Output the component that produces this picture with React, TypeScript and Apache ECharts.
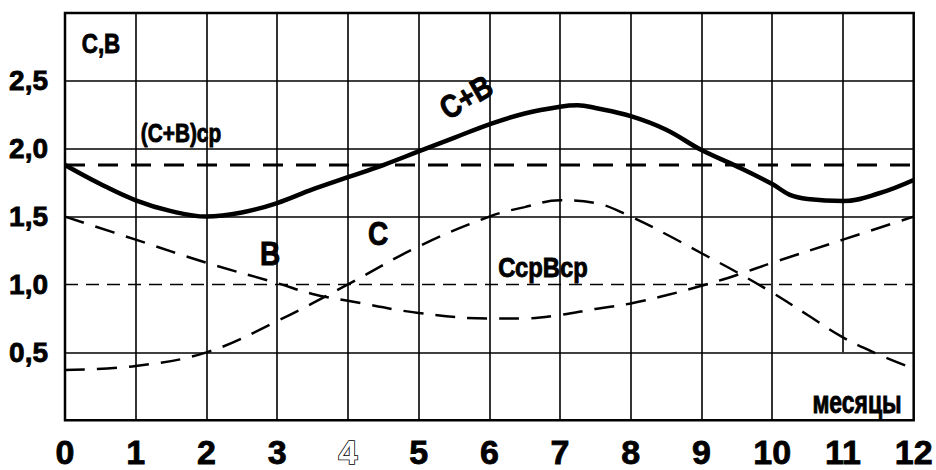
import React, { useEffect, useRef } from "react";
import * as echarts from "echarts";

const FONT = "'Liberation Sans', Arial, sans-serif";

// x positions (months) and values for each curve
const cbMonths = [0, 0.5, 1, 1.5, 2, 2.5, 3, 3.5, 4, 4.5, 5, 5.5, 6, 6.5, 7, 7.25, 7.5, 8, 8.5, 9, 9.5, 10, 10.25, 10.5, 11, 11.5, 12];
const cbValues = [1.88, 1.74, 1.62, 1.54, 1.5, 1.53, 1.6, 1.7, 1.79, 1.88, 1.98, 2.08, 2.18, 2.26, 2.31, 2.32, 2.3, 2.24, 2.14, 1.99, 1.87, 1.74, 1.66, 1.63, 1.615, 1.67, 1.77];

const cMonths = [0, 1, 2, 3, 4, 5, 6, 6.5, 7, 7.5, 8, 8.5, 9, 9.5, 10, 10.5, 11, 11.5, 12];
const cValues = [0.37, 0.4, 0.5, 0.73, 1.0, 1.28, 1.5, 1.57, 1.62, 1.6, 1.5, 1.37, 1.23, 1.09, 0.94, 0.775, 0.61, 0.485, 0.38];

const bMonths = [0, 1, 2, 3, 3.5, 4, 5, 6, 6.5, 7, 7.5, 8, 8.5, 9, 9.5, 10, 11, 12];
const bValues = [1.5, 1.33, 1.16, 1.01, 0.93, 0.88, 0.79, 0.75, 0.75, 0.775, 0.82, 0.86, 0.92, 0.99, 1.07, 1.16, 1.33, 1.5];

const cbMeanValue = 1.88; // (C+B)ср
const unitMeanValue = 1.0; // СсрВср

const xTickLabels = ["0", "1", "2", "3", "4", "5", "6", "7", "8", "9", "10", "11", "12"];
const yTickValues = [0.5, 1.0, 1.5, 2.0, 2.5];

const verticalGrid = [1, 2, 3, 4, 5, 6, 7, 8, 9, 10];
const horizontalGrid = [0.5, 1.5, 2.0, 2.5];

function pairs(xs: number[], ys: number[]) {
  return xs.map((x, i) => [x, ys[i]]);
}

export default function App() {
  const ref = useRef<HTMLDivElement>(null);
  useEffect(() => {
    if (!ref.current) return;
    const chart = echarts.init(ref.current, undefined, { renderer: "svg" });

    const gridLines: any[] = [];
    verticalGrid.forEach((x) => gridLines.push([{ coord: [x, 0] }, { coord: [x, 3] }]));
    gridLines.push([{ coord: [11, 0.5] }, { coord: [11, 3] }]);
    horizontalGrid.forEach((y) => gridLines.push([{ coord: [0, y] }, { coord: [12, y] }]));

    const txt = (text: string, x: number, y: number, size: number, sx: number, extra: any = {}) => ({
      type: "text",
      x,
      y,
      z: 100,
      scaleX: sx,
      ...extra,
      style: {
        text,
        fill: "#000",
        stroke: "#000",
        lineWidth: 0.9,
        font: `bold ${size}px ${FONT}`,
        textAlign: "center",
        textVerticalAlign: "middle",
      },
    });

    chart.setOption({
      animation: false,
      backgroundColor: "#fff",
      grid: {
        left: 65,
        right: 12,
        top: 13,
        bottom: 43,
        show: true,
        borderColor: "#000",
        borderWidth: 2.5,
        backgroundColor: "transparent",
      },
      xAxis: {
        type: "value",
        min: 0,
        max: 12,
        interval: 1,
        splitLine: { show: false },
        axisTick: { show: false },
        axisLine: { show: false },
        axisLabel: {
          margin: 15,
          color: "#000",
          fontSize: 34,
          fontWeight: "bold",
          fontFamily: FONT,
          textBorderColor: "#000",
          textBorderWidth: 0.8,
          formatter: (v: number) => {
            const s = xTickLabels[Math.round(v)] ?? "";
            return s === "4" ? "{o|4}" : s;
          },
          rich: {
            o: {
              color: "#fff",
              textBorderColor: "#000",
              textBorderWidth: 1.6,
              fontSize: 34,
              fontWeight: "bold",
              fontFamily: FONT,
            },
          },
        },
      },
      yAxis: {
        type: "value",
        min: 0,
        max: 3,
        interval: 0.5,
        splitLine: { show: false },
        axisTick: { show: false },
        axisLine: { show: false },
        axisLabel: {
          margin: 17,
          color: "#000",
          fontSize: 28,
          fontWeight: "bold",
          fontFamily: FONT,
          textBorderColor: "#000",
          textBorderWidth: 0.8,
          formatter: (v: number) =>
            yTickValues.some((t) => Math.abs(t - v) < 1e-6) ? v.toFixed(1).replace(".", ",") : "",
        },
      },
      series: [
        {
          name: "СсрВср",
          type: "line",
          data: [
            [0, unitMeanValue],
            [12, unitMeanValue],
          ],
          showSymbol: false,
          silent: true,
          lineStyle: { color: "#000", width: 1.6, type: [13, 8] },
          z: 3,
          markLine: {
            silent: true,
            symbol: "none",
            label: { show: false },
            lineStyle: { color: "#000", width: 1.6, type: "solid" },
            data: gridLines,
            z: 1,
          },
        },
        {
          name: "(C+B)ср",
          type: "line",
          data: [
            [0, cbMeanValue],
            [12, cbMeanValue],
          ],
          showSymbol: false,
          silent: true,
          lineStyle: { color: "#000", width: 3, type: [20, 13] },
          z: 3,
        },
        {
          name: "C",
          type: "line",
          data: pairs(cMonths, cValues),
          smooth: 0.4,
          showSymbol: false,
          silent: true,
          lineStyle: { color: "#000", width: 2.5, type: [20, 12] },
          z: 4,
        },
        {
          name: "B",
          type: "line",
          data: pairs(bMonths, bValues),
          smooth: 0.4,
          showSymbol: false,
          silent: true,
          lineStyle: { color: "#000", width: 2.5, type: [20, 12] },
          z: 4,
        },
        {
          name: "C+B",
          type: "line",
          data: pairs(cbMonths, cbValues),
          smooth: 0.4,
          showSymbol: false,
          silent: true,
          lineStyle: { color: "#000", width: 4.5 },
          z: 5,
        },
      ],
      graphic: [
        txt("С,В", 101, 43, 28, 0.8),
        txt("(С+В)ср", 181, 133, 26, 0.8),
        txt("С+В", 466, 97, 32, 0.85, { rotation: (30 * Math.PI) / 180 }),
        txt("В", 270, 253, 33, 0.85),
        txt("С", 378, 233, 33, 0.85),
        txt("СсрВср", 543, 267, 28, 0.85),
        txt("месяцы", 857, 402, 31, 0.74),
      ],
    });
    return () => chart.dispose();
  }, []);
  return (
    <div
      ref={ref}
      style={{ position: "absolute", left: 0, top: 0, width: 936, height: 470, overflow: "hidden" }}
    />
  );
}
